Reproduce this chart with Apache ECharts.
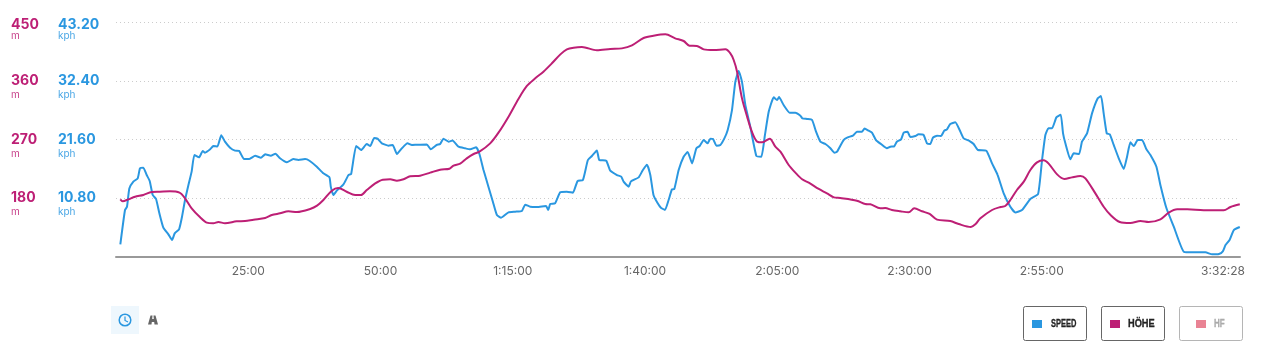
<!DOCTYPE html>
<html>
<head>
<meta charset="utf-8">
<title>Speed / Höhe</title>
<script src="https://cdn.jsdelivr.net/npm/echarts@6/dist/echarts.min.js"></script>
<style>
	html, body { margin: 0; padding: 0; background: #fff; }
	#chart { width: 1265px; height: 362px; }
</style>
</head>
<body>
<div id="chart"></div>
<script>
// Zeit in Minuten
var speedTimes = [0.82,1.7,2.08,2.52,3.28,4.1,4.54,5.17,5.8,6.37,6.94,7.57,8.2,8.95,9.9,10.59,11.1,11.92,12.42,13.05,13.68,14.3,14.82,15.7,16.4,16.83,17.8,18.4,19.17,19.9,20.6,21.56,22.5,23.27,24.2,25.2,26.3,27.4,28.2,29.26,30.14,31,32.3,33.5,34.5,35.75,36.57,37.96,39.2,40.35,40.6,41.1,41.74,43,43.95,44.45,45.4,46.34,47.4,48.05,48.8,49.43,50.25,51.5,52.3,53.1,54.04,55.1,55.93,56.87,
	58.75,59.5,60.64,61.27,61.9,62.85,63.6,64.74,66,66.95,68.08,68.7,69.47,70.4,71.24,72,72.8,74.2,75.46,76.72,77.35,78.3,79.56,81.3,81.7,82.08,83,83.97,85.23,86.37,87.25,88.26,89.2,89.96,90.9,91.35,92.67,93.43,94.7,95.5,95.95,96.9,97.34,98.8,99.6,100.37,101,101.6,102.4,103,103.77,104.46,105.1,105.54,106.36,107.3,108.06,108.9,109.7,110.33,111.1,111.84,112.35,112.85,113.5,114.24,115,115.63,116.44,117.07,117.7,118.33,118.97,119.9,121.05,121.99,122.62,123.38,124.33,124.96,125.33,126.2,127.35,128.42,129.37,129.75,130.63,131.58,132.33,133.15,134.1,135.05,135.8,136.3,
	137.53,138.3,139.3,140.05,141,141.5,142.26,142.9,143.65,144.6,145.73,146.36,147.1,147.6,148.4,148.9,149.64,150.14,151.1,151.7,152.66,153.3,153.92,154.43,155.2,155.94,156.57,157.08,157.7,158.65,159.47,160.23,161.36,162.12,162.94,164.52,165.6,166.66,167.8,169.06,170,171.26,172.84,174.3,175.05,175.68,176.25,176.94,177.76,178.58,179.02,179.46,180.4,181.04,182.05,182.6,183.56,184.5,185.58,186.2,186.7,187.28,187.85,188.6,189.55,190.5,191.12,191.75,192.4,193.14,193.96,194.78,195.54,196.67,197.43,198.57,199.95,201.84,203.74,205.94,207.2,208.47,209.22,209.73,210.5,211.3,212.43];
var speedValues = [2.33,8.64,9.25,12.6,13.85,14.46,16.3,16.4,15.07,13.97,11.4,10.66,8.03,5.39,4.17,3.13,4.35,5.09,7.11,10.48,13.2,15.7,18.75,18.32,19.5,19.18,19.8,20.4,20.3,22.4,21.2,20.1,19.55,19.5,18,18,18.6,18.26,18.87,18.63,19,18.14,17.4,18,17.83,18,17.7,16.6,15.38,14.64,12.93,11.4,12.2,13.36,15.07,15.26,20.4,19.67,20.77,20.4,21.87,21.75,20.9,20.47,20.6,18.93,19.98,20.9,20.6,20.65,
	20.7,19.8,20.6,20.77,21.75,21.2,21.4,20.28,19.98,19.8,20.16,18.93,16,12.93,10.17,7.72,7.23,8.21,8.33,8.46,9.62,9.25,9.19,9.38,8.64,9.74,9.87,11.89,12,11.83,13.97,14.15,17.83,18.57,19.6,17.83,17.7,15.87,15.07,14.77,13.85,12.93,13.9,14.64,16,16.97,15.07,11.4,9.87,9.07,8.64,10.48,12.44,12.5,16,18.44,19.3,17.2,19.98,20.4,21.5,20.9,21.75,21.7,20.47,20.6,21.8,23.35,27,32.2,34.2,32.2,27.9,23.96,18.57,18.44,22.1,26.7,29.35,28.86,29.4,27.94,26.53,26.53,25.98,25.5,25.37,25.18,23.04,21.2,20.77,19.98,19.18,19.36,
	21.5,22,22.3,23.04,23.04,23.6,23.22,22.86,21.5,20.77,19.98,20.28,20.34,21.2,21.63,22.86,23.04,22.06,22.24,22.55,22.43,20.9,20.77,21.94,22.3,22.24,23.22,23.47,24.45,24.75,23.35,21.8,21.32,20.77,19.67,19.55,17.2,15.07,11.7,9.25,8.2,8.64,10.66,11.58,17.83,22.43,23.65,23.65,25.67,26.16,22.73,20.9,17.95,19.06,18.93,21.2,22.73,26.4,29.17,29.6,26.4,22.73,22.55,20.6,18.14,16.18,18.44,21.08,20.4,21.5,21.5,19.8,18.75,16.6,13.2,8.95,5.58,0.98,0.86,0.86,0.49,0.55,1.04,2.2,3.13,4.96,5.51];

var hoeheTimes = [0.82,1.26,2.33,3.6,5.17,6.75,8.3,10.2,12,13.05,14.3,15.9,17.15,18.4,19.36,20.6,22.8,24.4,26,28.2,29.45,31,32.6,34.2,36.7,38,39.2,40.8,42,43.6,45.2,46.3,47.4,49,50.44,51.83,53.1,54.35,55.6,57.5,
	59.4,61.27,63.04,63.8,65.06,66.3,67.6,68.7,70.73,72.3,74.2,76.1,77.67,79.25,80.8,82.4,84,85.23,86.5,88.07,90.9,93.43,95.63,97.53,99.73,101.6,103.84,105.7,107.3,108.4,109.8,111.1,113,115.2,116.13,116.76,117.4,118.33,119.3,120.2,121.2,122.1,123.57,124.64,125.6,127.16,128.42,129.7,130.95,132.84,134.4,135.7,136.9,
	140.05,141.63,142.6,144.47,145.4,146.67,148.25,149.83,150.9,152.35,153.8,155.2,157.7,159.3,161.6,162.44,163.4,165.6,167.2,168.1,169.06,170.3,171.6,172.84,174.1,175.36,176.3,177.9,179.27,180.7,182.3,183.24,185.13,186.7,188,189.74,191.75,193.65,195.2,197.43,199,200.6,202.5,205.6,209.4,210.67,212.43];
var hoeheValues = [178.3,175.3,178.3,182.4,185,189.6,190,190.6,188.5,179.9,164.5,150.8,142.6,141.6,143.6,141.6,144.6,145.1,147.2,149.7,154.3,156.9,160,158.9,163.5,168.6,177.3,191.6,195.7,190,185,185,192.6,202.8,208.5,209,207,209,213.6,214.6,
	219.2,223.8,225.3,229.9,233,241.1,247.8,251.4,264.1,280.5,305,332.5,352,363.7,373.9,386.7,400.4,408.1,410.7,411.7,406.6,408.6,409.6,414.2,425.5,429,431.1,425,420.9,413.7,413.2,408.1,407.1,408.1,402,391.8,373.9,333,305,282,266.7,265.6,271.3,259,251.4,230.9,219.2,209,203.9,194.2,187.5,181.4,180.4,
	176.3,171.2,170.7,164.5,165.1,162,160,158.4,164.5,160,155.9,147.2,145.1,140.5,136,140,149.2,162,166.6,168.1,177.3,192.6,205.4,223.3,235,238.1,233,216.6,209.5,212,214.1,210.5,187.5,167,154.3,143.6,142,145.1,143.6,147.7,157.9,163,163,161.5,161.5,166.6,170.7];

var timeTicks = [25, 50, 75, 100, 125, 150, 175, 212.47];
var timeLabels = ["25:00", "50:00", "1:15:00", "1:40:00", "2:05:00", "2:30:00", "2:55:00", "3:32:28"];
var legendNames = ["SPEED", "HÖHE", "HF"];

var SPEED_COLOR = "#2a97e0";
var HOEHE_COLOR = "#bd1f75";
var HF_COLOR = "#e98394";
var FONT = "Inter, 'Noto Sans', sans-serif";

function zipPoints(times, values)
{
	var re = [];
	
	for(var i=0; i<times.length; i++)
		re[i] = [times[i], values[i]];
	
	return re;
}

// Wertelabel mit Einheit darunter, Tick unten ohne Label
function yLabel(unit, min, max, decimals)
{
	return function(value)
	{
		if(value <= min)
			return "";
		
		// oberstes Label sitzt im Original etwas tiefer
		var style = (value >= max ? "t" : "v");
		
		return "{" + style + "|" + value.toFixed(decimals) + "}\n{u|" + unit + "}";
	};
}

function yRich(color)
{
	return {
		v: { color: color, fontFamily: FONT, fontSize: 14, fontWeight: 700, lineHeight: 15 },
		t: { color: color, fontFamily: FONT, fontSize: 14, fontWeight: 700, lineHeight: 15, padding: [5, 0, 0, 0] },
		u: { color: color, fontFamily: FONT, fontSize: 10, lineHeight: 13, opacity: 0.85 }
	};
}

function legendButton(x, name, color, faded, textX, textScale)
{
	return {
		type: "group",
		x: x,
		y: 306,
		silent: true,
		children:
		[
			{ type: "rect", shape: { x: 0.5, y: 0.5, width: 63, height: 34, r: 2 }, style: { fill: "#fff", stroke: faded ? "#b5b5b5" : "#666", lineWidth: 1 } },
			{ type: "rect", shape: { x: name == "HF" ? 17 : 9, y: 14, width: 10, height: 8 }, style: { fill: color } },
			{ type: "text", x: textX, y: 18, scaleX: textScale, style: { text: name, fill: faded ? "#aaa" : "#222", stroke: faded ? "#aaa" : "#222", lineWidth: 0.3, font: "bold 11px 'Liberation Sans', sans-serif", verticalAlign: "middle" } }
		]
	};
}

var chart = echarts.init(document.getElementById("chart"));

chart.setOption(
{
	animation: false,
	backgroundColor: "#fff",
	grid: { left: 116, right: 25, top: 22, bottom: 105 },
	xAxis:
	{
		type: "value",
		min: 0,
		max: 212.47,
		interval: 25,
		splitLine: { show: false },
		axisTick: { show: false },
		axisLine: { lineStyle: { color: "#999", width: 2 } },
		axisLabel:
		{
			customValues: timeTicks,
			margin: 8,
			color: "#666",
			fontFamily: FONT,
			fontSize: 12,
			hideOverlap: false,
			formatter: function(value)
			{
				var idx = timeTicks.indexOf(value);
				
				if(idx < 0)
					return "";
				
				return (idx == timeTicks.length - 1 ? "{last|" + timeLabels[idx] + "}" : timeLabels[idx]);
			},
			rich: { last: { color: "#666", fontFamily: FONT, fontSize: 12, padding: [0, 34, 0, 0] } }
		}
	},
	yAxis:
	[
		{
			type: "value",
			min: 90,
			max: 450,
			interval: 90,
			axisLine: { show: false },
			axisTick: { show: false },
			splitLine: { lineStyle: { color: "#ccc", type: [1, 3], width: 1 } },
			axisLabel: { align: "left", margin: 105, formatter: yLabel("m", 90, 450, 0), rich: yRich(HOEHE_COLOR), padding: [13, 0, 0, 0] }
		},
		{
			type: "value",
			position: "left",
			min: 0,
			max: 43.2,
			interval: 10.8,
			axisLine: { show: false },
			axisTick: { show: false },
			splitLine: { show: false },
			axisLabel: { align: "left", margin: 58, formatter: yLabel("kph", 0, 43.2, 2), rich: yRich(SPEED_COLOR), padding: [13, 0, 0, 0] }
		}
	],
	series:
	[
		{ name: "SPEED", type: "line", yAxisIndex: 1, data: zipPoints(speedTimes, speedValues), showSymbol: false, smooth: 0.15, lineStyle: { color: SPEED_COLOR, width: 2 } },
		{ name: "HÖHE", type: "line", yAxisIndex: 0, data: zipPoints(hoeheTimes, hoeheValues), showSymbol: false, smooth: 0.3, lineStyle: { color: HOEHE_COLOR, width: 2 } }
	],
	graphic:
	[
		{ type: "rect", silent: true, shape: { x: 111, y: 306, width: 28, height: 28 }, style: { fill: "#eef7fd" } },
		{ type: "circle", silent: true, shape: { cx: 125, cy: 320, r: 5.8 }, style: { fill: "none", stroke: SPEED_COLOR, lineWidth: 1.5 } },
		{ type: "polyline", silent: true, shape: { points: [[125, 316.5], [125, 320.5], [128, 322]] }, style: { fill: "none", stroke: SPEED_COLOR, lineWidth: 1.2 } },
		{ type: "polygon", silent: true, shape: { points: [[150.5, 315.5], [152.5, 315.5], [152.2, 319], [153.8, 319], [153.5, 315.5], [155.5, 315.5], [158, 324.5], [154.5, 324.5], [154.2, 322], [151.8, 322], [151.5, 324.5], [148, 324.5]] }, style: { fill: "#666" } },
		legendButton(1023, legendNames[0], SPEED_COLOR, false, 28, 0.68),
		legendButton(1101, legendNames[1], HOEHE_COLOR, false, 27, 0.84),
		legendButton(1179, legendNames[2], HF_COLOR, true, 35, 0.73)
	]
});
</script>
</body>
</html>
